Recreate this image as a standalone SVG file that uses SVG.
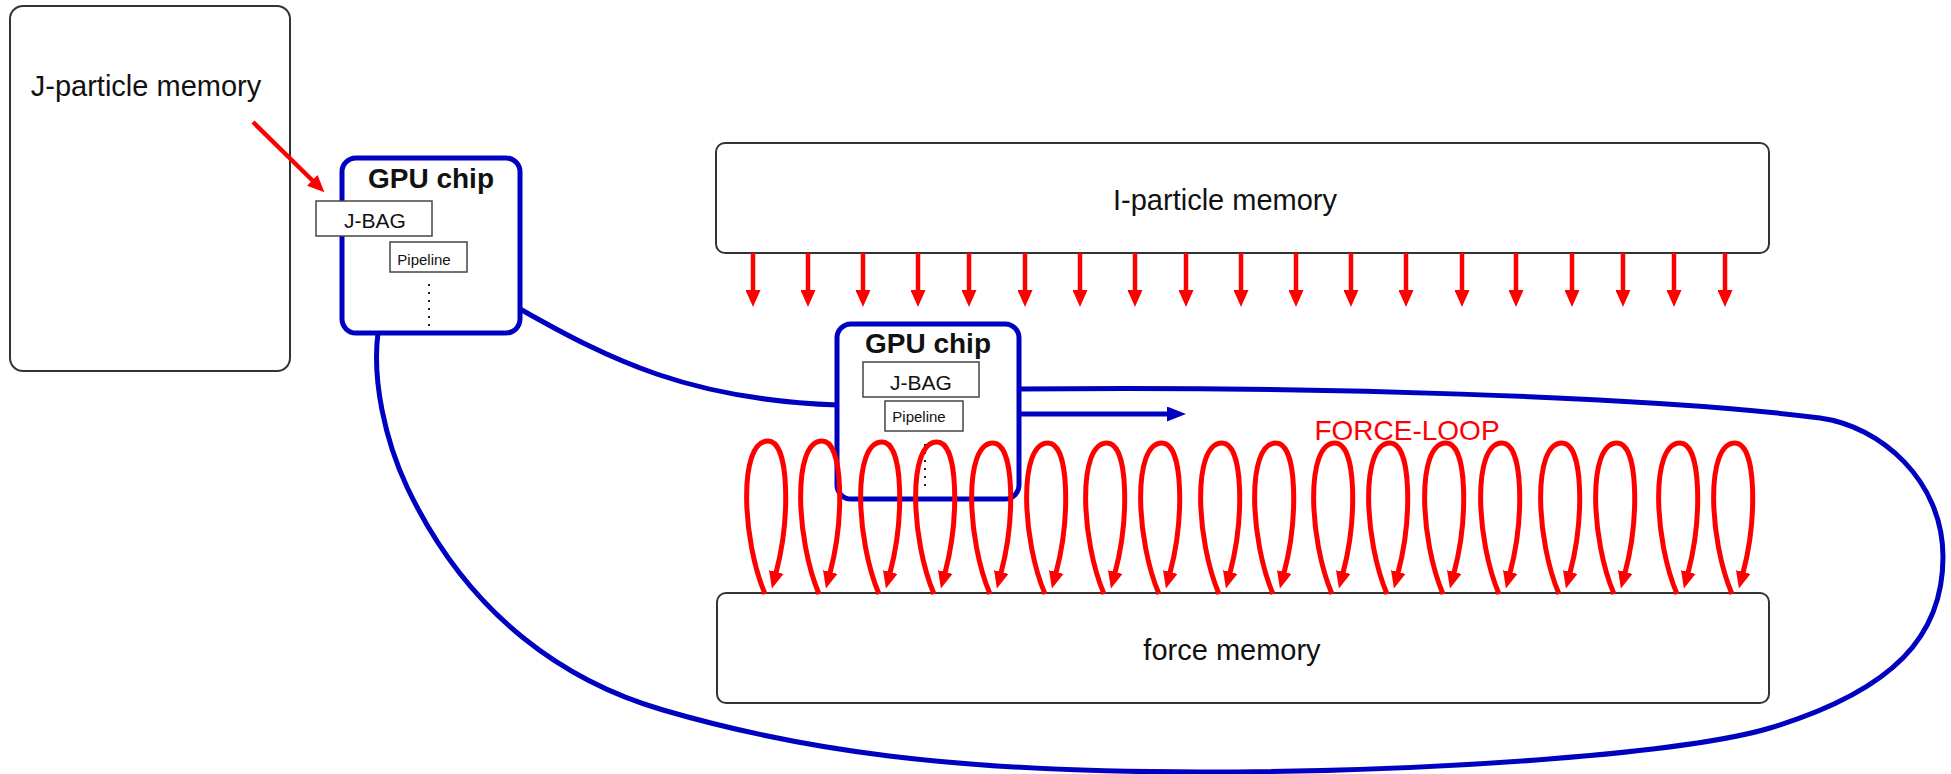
<svg xmlns="http://www.w3.org/2000/svg" width="1951" height="774" viewBox="0 0 1951 774">
<style>
.mem{fill:#fff;stroke:#333;stroke-width:2}
.chip{fill:#fff;stroke:#0000c0;stroke-width:5}
.sub{fill:#fff;stroke:#444;stroke-width:1.5}
.t{font-family:"Liberation Sans",Arial,sans-serif;fill:#111;text-anchor:middle}
.lbl{font-size:29px}
.chipt{font-size:28px;font-weight:bold}
.jbag{font-size:21px}
.pipe{font-size:15px}
.red{fill:none;stroke:#ff0000;stroke-width:4.5}
.loop{fill:none;stroke:#ff0000;stroke-width:5}
.blue{fill:none;stroke:#0000c0;stroke-width:5}
.dots{stroke:#222;stroke-width:2;stroke-dasharray:2 6}
</style>
<defs>
<marker id="rh" markerUnits="userSpaceOnUse" markerWidth="17" markerHeight="15" refX="1" refY="7.5" orient="auto">
<path d="M0,0 L17,7.5 L0,15 z" fill="#ff0000"/>
</marker>
<marker id="bh" markerUnits="userSpaceOnUse" markerWidth="19" markerHeight="15" refX="1" refY="7.5" orient="auto">
<path d="M0,0 L19,7.5 L0,15 z" fill="#0000c0"/>
</marker>
</defs>

<g id="j-particle-memory">
<rect class="mem" x="10" y="6" width="280" height="365" rx="13"/>
<text class="t lbl" x="146" y="96">J-particle memory</text>
</g>

<g id="i-particle-memory">
<rect class="mem" x="716" y="143" width="1053" height="110" rx="9"/>
<text class="t lbl" x="1225" y="210">I-particle memory</text>
</g>

<g id="force-memory">
<rect class="mem" x="717" y="593" width="1052" height="110" rx="9"/>
<text class="t lbl" x="1232" y="660">force memory</text>
</g>

<g id="connectors">
<path class="blue" d="M520,309 C610,360 690,400 838,405"/>
<path class="blue" d="M1019,389 C1300,386 1650,396 1820,418 C1880,426 1943,480 1943,557 C1943,635 1895,690 1770,728 C1690,752 1450,772 1200,772 C950,772 800,750 663,710 C570,683 470,620 407,487 C385,440 372,380 378,333"/>
<line class="blue" x1="1019" y1="414" x2="1168" y2="414" marker-end="url(#bh)"/>
<line class="red" x1="253" y1="122" x2="313" y2="181" marker-end="url(#rh)"/>
<g class="red" marker-end="url(#rh)">
<line x1="753" y1="253" x2="753" y2="291"/>
<line x1="808" y1="253" x2="808" y2="291"/>
<line x1="863" y1="253" x2="863" y2="291"/>
<line x1="918" y1="253" x2="918" y2="291"/>
<line x1="969" y1="253" x2="969" y2="291"/>
<line x1="1025" y1="253" x2="1025" y2="291"/>
<line x1="1080" y1="253" x2="1080" y2="291"/>
<line x1="1135" y1="253" x2="1135" y2="291"/>
<line x1="1186" y1="253" x2="1186" y2="291"/>
<line x1="1241" y1="253" x2="1241" y2="291"/>
<line x1="1296" y1="253" x2="1296" y2="291"/>
<line x1="1351" y1="253" x2="1351" y2="291"/>
<line x1="1406" y1="253" x2="1406" y2="291"/>
<line x1="1462" y1="253" x2="1462" y2="291"/>
<line x1="1516" y1="253" x2="1516" y2="291"/>
<line x1="1572" y1="253" x2="1572" y2="291"/>
<line x1="1623" y1="253" x2="1623" y2="291"/>
<line x1="1674" y1="253" x2="1674" y2="291"/>
<line x1="1725" y1="253" x2="1725" y2="291"/>
</g>
</g>

<g id="gpu-chip-1">
<rect class="chip" x="342" y="158" width="178" height="175" rx="14"/>
<text class="t chipt" x="431" y="188">GPU chip</text>
<rect class="sub" x="316" y="201" width="116" height="35"/>
<text class="t jbag" x="375" y="228">J-BAG</text>
<rect class="sub" x="390" y="242" width="77" height="30"/>
<text class="t pipe" x="424" y="265">Pipeline</text>
<line class="dots" x1="429" y1="284" x2="429" y2="327"/>
</g>

<g id="gpu-chip-2">
<rect class="chip" x="837" y="324" width="182" height="175" rx="14"/>
<text class="t chipt" x="928" y="353">GPU chip</text>
<rect class="sub" x="863" y="362" width="116" height="35"/>
<text class="t jbag" x="921" y="390">J-BAG</text>
<rect class="sub" x="885" y="401" width="78" height="30"/>
<text class="t pipe" x="919" y="422">Pipeline</text>
<line class="dots" x1="925" y1="444" x2="925" y2="488"/>
</g>

<g id="force-loop">
<text class="t" x="1407" y="440" style="font-size:28px;fill:#ff0000">FORCE-LOOP</text>
<g class="loop" marker-end="url(#rh)">
<path d="M765,594 C742,540 738,441 768,441 C790,441 790,520 776,573"/>
<path d="M819,594 C796,540 792,441 822,441 C844,441 844,520 830,573"/>
<path d="M879,594 C856,540 852,442 882,442 C904,442 904,520 890,573"/>
<path d="M934,594 C911,540 907,442 937,442 C959,442 959,520 945,573"/>
<path d="M990,594 C967,540 963,443 993,443 C1015,443 1015,520 1001,573"/>
<path d="M1045,594 C1022,540 1018,443 1048,443 C1070,443 1070,520 1056,573"/>
<path d="M1104,594 C1081,540 1077,443 1107,443 C1129,443 1129,520 1115,573"/>
<path d="M1159,594 C1136,540 1132,443 1162,443 C1184,443 1184,520 1170,573"/>
<path d="M1219,594 C1196,540 1192,443 1222,443 C1244,443 1244,520 1230,573"/>
<path d="M1273,594 C1250,540 1246,443 1276,443 C1298,443 1298,520 1284,573"/>
<path d="M1332,594 C1309,540 1305,443 1335,443 C1357,443 1357,520 1343,573"/>
<path d="M1387,594 C1364,540 1360,443 1390,443 C1412,443 1412,520 1398,573"/>
<path d="M1443,594 C1420,540 1416,443 1446,443 C1468,443 1468,520 1454,573"/>
<path d="M1499,594 C1476,540 1472,443 1502,443 C1524,443 1524,520 1510,573"/>
<path d="M1559,594 C1536,540 1532,443 1562,443 C1584,443 1584,520 1570,573"/>
<path d="M1614,594 C1591,540 1587,443 1617,443 C1639,443 1639,520 1625,573"/>
<path d="M1677,594 C1654,540 1650,443 1680,443 C1702,443 1702,520 1688,573"/>
<path d="M1732,594 C1709,540 1705,443 1735,443 C1757,443 1757,520 1743,573"/>
</g>
</g>
</svg>
